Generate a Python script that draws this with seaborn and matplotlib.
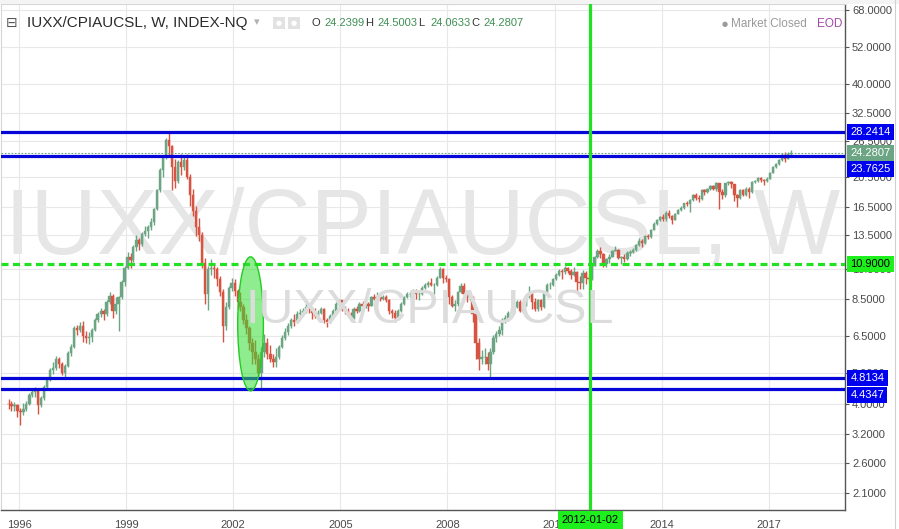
import numpy as np
import pandas as pd
import matplotlib
matplotlib.use("Agg")
import matplotlib.pyplot as plt
from matplotlib.patches import Ellipse, Rectangle
from matplotlib.lines import Line2D
import seaborn as sns

# IUXX/CPIAUCSL, monthly candles (Sep 1995 .. Aug 2017)
start_month = "1995-09"
first_open = 4.00

closes = [
    3.98, 3.92, 3.95, 3.80,
    3.75, 3.85, 4.00, 4.25, 4.35, 4.40, 3.95, 4.15, 4.50, 4.75, 5.10, 5.15,
    5.50, 5.30, 5.00, 5.25, 5.75, 6.00, 6.90, 6.80, 7.00, 6.50, 6.40, 6.45,
    6.80, 7.30, 7.60, 7.80, 7.60, 8.30, 8.70, 7.80, 8.20, 8.60, 9.60, 10.60,
    11.50, 11.20, 12.30, 13.00, 12.60, 13.60, 13.90, 14.30, 14.80, 16.20, 18.60, 21.50,
    23.60, 26.60, 25.50, 22.00, 19.80, 22.70, 22.00, 23.10, 20.40, 18.00, 16.00, 14.30,
    13.50, 11.00, 8.80, 10.50, 10.60, 10.50, 9.80, 8.90, 7.00, 8.00, 9.20, 9.50,
    9.00, 8.30, 8.00, 7.30, 6.90, 6.20, 5.80, 5.50, 5.00, 5.80, 6.20, 5.70,
    5.50, 5.40, 5.60, 6.00, 6.40, 6.70, 7.00, 7.30, 7.20, 7.60, 7.70, 7.80,
    8.00, 7.90, 7.70, 7.50, 7.70, 7.90, 7.30, 7.20, 7.50, 7.80, 8.20, 8.40,
    7.90, 7.80, 7.60, 7.40, 7.90, 7.80, 8.20, 8.10, 8.20, 8.10, 8.60, 8.50,
    8.60, 8.50, 8.60, 8.40, 7.80, 7.70, 7.40, 7.80, 8.20, 8.60, 8.80, 8.80,
    8.90, 8.80, 8.80, 9.20, 9.40, 9.50, 9.40, 9.40, 9.90, 10.50, 9.90, 9.80,
    8.60, 8.10, 8.20, 8.90, 9.30, 8.80, 8.60, 8.60, 7.60, 6.20, 5.50, 5.60,
    5.60, 5.30, 5.80, 6.40, 6.60, 6.80, 7.30, 7.40, 7.70, 7.70, 8.00, 8.30,
    7.80, 8.10, 8.60, 8.80, 8.30, 7.90, 8.40, 8.00, 8.90, 9.40, 9.40, 9.80,
    10.10, 10.40, 10.30, 10.60, 10.40, 10.10, 10.30, 9.60, 9.50, 10.20, 9.90, 9.80,
    10.80, 11.50, 12.00, 11.70, 10.90, 11.30, 11.50, 12.00, 12.10, 11.40, 11.50, 11.30,
    11.80, 11.90, 12.10, 12.50, 12.90, 12.70, 13.40, 13.30, 14.00, 14.60, 15.00, 15.30,
    15.10, 15.80, 15.40, 15.00, 15.70, 16.10, 16.40, 16.90, 16.80, 17.30, 18.00, 17.60,
    17.40, 18.60, 18.30, 18.70, 19.10, 18.80, 19.50, 18.30, 17.90, 19.50, 19.70, 19.40,
    17.90, 17.60, 18.60, 18.00, 18.80, 18.30, 19.70, 19.90, 20.30, 20.00, 19.80, 20.20,
    21.10, 22.00, 22.40, 23.10, 24.00, 23.30, 24.10, 24.28,
]

highs = [
    4.12, 4.08, 4.05, 4.00,
    3.88, 4.02, 4.08, 4.32, 4.48, 4.52, 4.45, 4.22, 4.58, 4.82, 5.18, 5.40,
    5.62, 5.60, 5.40, 5.30, 5.85, 6.15, 7.00, 7.05, 7.20, 7.25, 6.75, 6.70,
    6.90, 7.40, 7.75, 7.95, 7.90, 8.40, 8.95, 8.80, 8.60, 8.70, 9.70, 10.80,
    11.90, 11.80, 12.50, 13.50, 13.20, 13.80, 14.40, 14.50, 15.20, 16.40, 18.80, 21.80,
    24.00, 27.00, 28.24, 25.80, 23.20, 23.10, 24.10, 23.60, 24.10, 20.90, 18.80, 16.60,
    15.20, 13.80, 11.40, 10.80, 11.30, 11.00, 10.70, 10.00, 9.10, 8.30, 9.30, 9.90,
    9.80, 9.10, 8.90, 8.20, 7.60, 7.00, 6.40, 6.30, 5.70, 6.00, 6.60, 6.40,
    6.10, 5.70, 5.95, 6.10, 6.55, 6.90, 7.15, 7.40, 7.60, 7.80, 7.90, 7.95,
    8.30, 8.15, 8.00, 7.95, 7.85, 8.00, 7.95, 7.40, 7.60, 7.90, 8.30, 8.50,
    8.45, 8.10, 7.95, 7.75, 8.00, 8.10, 8.30, 8.35, 8.30, 8.30, 8.70, 8.80,
    8.90, 8.75, 8.75, 8.75, 8.50, 7.90, 7.85, 7.90, 8.30, 8.70, 8.95, 8.95,
    9.10, 9.10, 8.95, 9.30, 9.50, 9.65, 9.90, 9.50, 10.00, 10.70, 10.60, 10.10,
    9.85, 8.75, 8.40, 9.00, 9.50, 9.50, 8.90, 9.00, 8.70, 7.70, 6.40, 5.90,
    5.95, 5.80, 5.95, 6.55, 6.75, 7.00, 7.40, 7.55, 7.80, 7.95, 8.10, 8.40,
    8.45, 8.20, 8.70, 9.30, 8.90, 8.55, 8.50, 8.50, 9.00, 9.50, 9.60, 9.90,
    10.25, 10.55, 10.50, 10.75, 10.70, 10.50, 10.70, 10.40, 10.00, 10.45, 10.40, 10.10,
    10.90, 11.60, 12.20, 12.30, 11.80, 11.40, 11.70, 12.10, 12.40, 12.20, 11.60, 11.70,
    11.95, 12.05, 12.25, 12.60, 13.15, 13.10, 13.50, 13.60, 14.10, 14.80, 15.15, 15.45,
    15.60, 15.95, 16.15, 15.50, 15.80, 16.20, 16.60, 17.00, 17.15, 17.40, 18.10, 18.20,
    17.95, 18.70, 18.80, 18.90, 19.30, 19.30, 19.70, 19.60, 18.70, 19.60, 19.90, 19.90,
    19.45, 18.10, 18.70, 18.80, 18.95, 19.00, 19.80, 20.00, 20.50, 20.40, 20.20, 20.40,
    21.20, 22.10, 22.60, 23.30, 24.30, 24.45, 24.50, 24.80,
]

lows = [
    3.85, 3.78, 3.80, 3.62,
    3.43, 3.68, 3.78, 3.95, 4.18, 4.20, 3.72, 3.90, 4.10, 4.45, 4.70, 4.95,
    5.10, 5.15, 4.90, 4.80, 5.20, 5.65, 5.95, 6.55, 6.70, 6.25, 6.20, 6.15,
    6.25, 6.75, 7.20, 7.45, 7.30, 7.50, 8.20, 7.40, 7.60, 6.75, 8.50, 9.30,
    10.50, 10.60, 11.10, 12.00, 12.10, 12.40, 13.40, 13.20, 14.00, 14.50, 16.10, 18.40,
    20.50, 23.20, 23.80, 18.60, 18.90, 19.60, 20.80, 21.50, 20.10, 16.60, 15.40, 13.40,
    12.90, 10.60, 8.20, 7.85, 10.10, 9.90, 9.30, 8.70, 6.25, 6.80, 7.90, 9.00,
    8.70, 7.90, 7.80, 7.10, 6.60, 5.90, 5.30, 5.30, 4.85, 4.43, 5.60, 5.50,
    5.40, 5.20, 5.20, 5.50, 5.95, 6.30, 6.55, 6.90, 7.00, 7.15, 7.35, 7.50,
    7.70, 7.70, 7.35, 7.40, 7.30, 7.60, 7.15, 6.95, 7.15, 7.40, 7.75, 8.10,
    7.80, 7.60, 7.50, 7.25, 7.35, 7.70, 7.75, 8.00, 7.95, 7.80, 8.05, 8.40,
    8.40, 8.35, 8.40, 8.30, 7.60, 7.40, 7.20, 7.30, 7.75, 8.15, 8.55, 8.60,
    8.70, 8.50, 8.40, 8.75, 9.10, 9.25, 9.30, 8.80, 9.35, 9.85, 9.50, 9.60,
    8.20, 8.00, 7.80, 8.10, 8.85, 8.70, 8.30, 8.40, 7.20, 5.50, 5.10, 5.30,
    5.30, 5.10, 4.85, 5.70, 6.25, 6.50, 6.55, 7.15, 7.25, 7.45, 7.60, 7.95,
    7.75, 7.65, 8.05, 8.55, 7.90, 7.80, 7.80, 7.85, 7.95, 8.85, 9.15, 9.35,
    9.75, 10.00, 9.80, 10.15, 10.20, 9.80, 10.00, 8.90, 9.10, 9.10, 9.45, 9.60,
    9.75, 10.75, 11.40, 11.40, 10.70, 10.70, 11.00, 11.45, 11.95, 11.30, 10.90, 11.10,
    11.25, 11.60, 11.80, 11.95, 12.45, 12.35, 12.65, 13.10, 13.20, 13.95, 14.50, 14.85,
    14.90, 14.90, 15.20, 14.60, 14.95, 15.65, 16.00, 16.20, 16.60, 15.90, 17.25, 17.30,
    17.10, 17.30, 18.00, 18.20, 18.60, 18.60, 18.50, 16.20, 17.50, 17.70, 19.30, 18.90,
    17.20, 16.50, 17.50, 17.80, 17.80, 17.60, 18.20, 19.60, 19.70, 19.70, 19.30, 19.70,
    20.10, 21.00, 21.80, 22.20, 23.00, 22.80, 23.20, 23.90,
]

blue_levels = [28.2414, 23.7625, 4.8134, 4.4347]
blue_label_shift_px = [0, 13, 0, 6]     # TradingView pushes overlapping labels apart
green_level = 10.9
last_price = 24.2807
marker_date = "2012-01-02"
ellipse_dates = ("2002-02-15", "2002-11-05")
ellipse_values = (11.5, 4.38)

y_ticks = [2.1, 2.6, 3.2, 4.0, 5.0, 6.5, 8.5, 10.5, 13.5, 16.5, 20.5, 26.5, 32.5, 40.0, 52.0, 68.0]
x_tick_years = [1996, 1999, 2002, 2005, 2008, 2011, 2014, 2017]
ohlc_header = [("O", "24.2399"), ("H", "24.5003"), ("L", "24.0633"), ("C", "24.2807")]

UP = "#6ba583"
DOWN = "#d75442"
BLUE = "#0606d8"
GREEN = "#22e022"

sns.set_theme(style="white")
plt.rcParams["font.family"] = ["Liberation Sans", "DejaVu Sans"]

W, H = 899, 529
fig = plt.figure(figsize=(W / 100, H / 100), dpi=100)
ax = fig.add_axes([1 / W, 19 / H, 844 / W, 506 / H])

def fx(px):
    return px / W

def fy(py):
    return 1 - py / H

df = pd.DataFrame({
    "date": pd.date_range(start_month, periods=len(closes), freq="MS") + pd.Timedelta(days=14),
    "close": closes,
    "high": highs,
    "low": lows,
})
df["open"] = [first_open] + closes[:-1]
df["up"] = df["close"] >= df["open"]
colors = np.where(df["up"], UP, DOWN)

ax.set_yscale("log")
ax.set_ylim(1.858, 71.0)
ax.set_xlim(pd.Timestamp("1995-06-30"), pd.Timestamp("2019-02-20"))

# watermark + the user's text drawing
ax.text(0.5, 0.506, "IUXX/CPIAUCSL, W", transform=ax.transAxes, ha="center", va="baseline",
        fontsize=66, color="#e6e6e6", zorder=0)
fig.text(fx(245), fy(323), "IUXX/CPIAUCSL", ha="left", va="baseline",
         fontsize=34.8, color="#dcdcdc", zorder=0)

# candles
body_lo = np.minimum(df["open"], df["close"])
body_hi = np.maximum(df["open"], df["close"])
ax.vlines(df["date"], df["low"], df["high"], colors=colors, lw=1.0, zorder=3)
ax.bar(df["date"], body_hi - body_lo, bottom=body_lo, width=24, color=colors,
       edgecolor=colors, linewidth=0.3, zorder=3)

# levels
ax.axhline(last_price, color=UP, lw=0.8, ls=(0, (1.5, 1.5)), zorder=4)
for lv in blue_levels:
    ax.axhline(lv, color=BLUE, lw=2.3, zorder=5)
ax.axhline(green_level, color=GREEN, lw=2.3, ls=(0, (2.2, 1.4)), zorder=5)
ax.axvline(pd.Timestamp(marker_date), color=GREEN, lw=2.3, zorder=5)

# ellipse drawn around the 2002 bottom
fig.canvas.draw()
e_pts = pd.to_datetime(list(ellipse_dates))
disp = ax.transData.transform(np.column_stack([
    matplotlib.dates.date2num(e_pts), np.array(ellipse_values)]))
axp = ax.transAxes.inverted().transform(disp)
ell = Ellipse(((axp[0, 0] + axp[1, 0]) / 2, (axp[0, 1] + axp[1, 1]) / 2),
              abs(axp[1, 0] - axp[0, 0]), abs(axp[0, 1] - axp[1, 1]),
              transform=ax.transAxes, facecolor=(0.2, 0.87, 0.2, 0.55),
              edgecolor="#22cc22", lw=1, zorder=6)
ax.add_patch(ell)

# axes styling
ax.grid(True, color="#e8e8e8", lw=0.8)
ax.set_axisbelow(True)
ax.yaxis.tick_right()
ax.set_yticks(y_ticks)
ax.set_yticklabels([f"{v:.4f}" for v in y_ticks])
ax.yaxis.set_minor_locator(matplotlib.ticker.NullLocator())
ax.set_xticks([pd.Timestamp(f"{y}-01-01") for y in x_tick_years])
ax.set_xticklabels([str(y) for y in x_tick_years])
ax.tick_params(axis="y", which="major", right=True, length=3, width=0.8, color="#555555",
               pad=2, labelsize=8, labelcolor="#4a4a4a")
ax.tick_params(axis="x", which="major", bottom=False, pad=1.2, labelsize=8, labelcolor="#4a4a4a")
for side in ["left", "top"]:
    ax.spines[side].set_color("#d6d6d6")
    ax.spines[side].set_linewidth(0.8)
for side in ["right", "bottom"]:
    ax.spines[side].set_color("#555555")
    ax.spines[side].set_linewidth(1)

# price labels on the right scale
def price_label(value, text, face, fg, shift_px=0):
    ax.annotate(text, xy=(1, value), xycoords=("axes fraction", "data"),
                xytext=(4.0, -shift_px * 0.72), textcoords="offset points",
                ha="left", va="center", fontsize=8, color=fg, zorder=10,
                annotation_clip=False,
                bbox=dict(boxstyle="square,pad=0.28", fc=face, ec="none"))

price_label(last_price, f"{last_price:.4f}", UP, "white")
for lv, sh in zip(blue_levels, blue_label_shift_px):
    price_label(lv, f"{lv:.4f}", "#0000f0", "white", sh)
price_label(green_level, f"{green_level:.4f}", "#1ef01e", "black")

ax.annotate(marker_date, xy=(pd.Timestamp(marker_date), 0), xycoords=("data", "axes fraction"),
            xytext=(0, -7.0), textcoords="offset points", ha="center", va="center",
            fontsize=8, color="black", zorder=10, annotation_clip=False,
            bbox=dict(boxstyle="square,pad=0.35", fc="#1ef01e", ec="none"))

# header
fig.text(fx(6), fy(23), "\u229f", fontsize=10, color="#555555", va="center",
         family=["DejaVu Sans"])
fig.text(fx(27), fy(23), "IUXX/CPIAUCSL, W, INDEX-NQ", fontsize=11, color="#2c2c2c", va="center")
fig.text(fx(254), fy(22), "\u25be", fontsize=8, color="#b0b0b0", va="center",
         family=["DejaVu Sans"])
for ix in (273, 288):
    fig.add_artist(Rectangle((fx(ix), fy(29)), 12 / W, 12 / H, transform=fig.transFigure,
                             facecolor="#e2e2e2", edgecolor="none"))
    fig.text(fx(ix + 6), fy(23), "\u25cf", fontsize=5, color="white", ha="center", va="center",
             family=["DejaVu Sans"])
hx = 312
for letter, val in ohlc_header:
    fig.text(fx(hx), fy(23), letter, fontsize=8, color="#333333", va="center")
    fig.text(fx(hx + 12), fy(23), val, fontsize=8, color="#3f8f55", va="center")
    hx += 53
fig.text(fx(722), fy(24), "\u25cf", fontsize=5, color="#9a9a9a", va="center",
         family=["DejaVu Sans"])
fig.text(fx(731), fy(24), "Market Closed", fontsize=8.5, color="#9a9a9a", va="center")
fig.text(fx(817), fy(24), "EOD", fontsize=8.5, color="#a04aa8", va="center")

# outer frame bits
fig.add_artist(Line2D([fx(895), fx(895)], [0, 1], color="#d0d0d0", lw=0.8))
fig.add_artist(Rectangle((0, fy(4)), 1, 4 / H, transform=fig.transFigure,
                         facecolor="#f4f4f4", edgecolor="none"))

fig.savefig("out.png", dpi=100)
